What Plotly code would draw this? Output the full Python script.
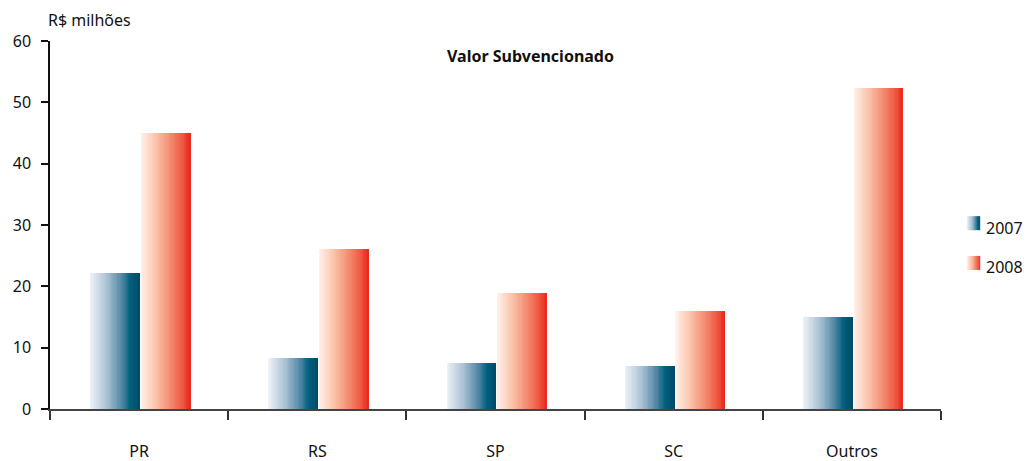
import plotly.graph_objects as go

categories = ["PR", "RS", "SP", "SC", "Outros"]
values_2007 = [22.2, 8.3, 7.5, 7.0, 15.0]
values_2008 = [45.0, 26.1, 18.9, 16.0, 52.3]
years = ["2007", "2008"]
y_ticks = [0, 10, 20, 30, 40, 50, 60]

FONT = "Noto Sans"

stops_2007 = [(0.0, (238, 243, 248)), (0.35, (168, 192, 211)), (0.65, (79, 134, 163)),
              (0.82, (0, 96, 127)), (1.0, (0, 74, 102))]
stops_2008 = [(0.0, (255, 242, 236)), (0.3, (251, 195, 171)), (0.6, (244, 140, 114)),
              (0.85, (238, 88, 64)), (1.0, (232, 38, 30))]


def interp(stops, t):
    for (t0, c0), (t1, c1) in zip(stops[:-1], stops[1:]):
        if t <= t1:
            f = (t - t0) / (t1 - t0) if t1 > t0 else 0
            c = [round(a + (b - a) * f) for a, b in zip(c0, c1)]
            return "rgb(%d,%d,%d)" % tuple(c)
    return "rgb(%d,%d,%d)" % stops[-1][1]


N = 40
bar_w = 0.276
series = [(values_2007, stops_2007, -0.272), (values_2008, stops_2008, 0.012)]

fig = go.Figure()
for vals, stops, start in series:
    sw = bar_w / N
    for i in range(N):
        fig.add_trace(go.Bar(
            x=categories, y=vals,
            offset=start + i * sw, width=sw * 1.35 if i < N - 1 else sw,
            marker=dict(color=interp(stops, (i + 0.5) / N), line=dict(width=0)),
            showlegend=False, hoverinfo="skip",
        ))

# legend (manual, gradient swatches)
legend_pos = [(0.486, 0.524), (0.378, 0.416)]
x0, x1 = 1.029, 1.044
M = 12
for (y0, y1), stops, yr in zip(legend_pos, [stops_2007, stops_2008], years):
    for i in range(M):
        fig.add_shape(type="rect", xref="paper", yref="paper",
                      x0=x0 + (x1 - x0) * i / M, x1=x0 + (x1 - x0) * (i + 1.3) / M if i < M - 1 else x1,
                      y0=y0, y1=y1, line=dict(width=0),
                      fillcolor=interp(stops, (i + 0.5) / M), layer="above")
    fig.add_annotation(x=1.048, y=(y0 + y1) / 2 - 0.012, xref="paper", yref="paper",
                       text=yr, showarrow=False, xanchor="left", yanchor="middle",
                       font=dict(family=FONT, size=16, color="#111"))

fig.add_annotation(x=0.539, y=0.959, xref="paper", yref="paper",
                   text="<b>Valor Subvencionado</b>", showarrow=False,
                   xanchor="center", yanchor="middle",
                   font=dict(family=FONT, size=16, color="#111"))
fig.add_annotation(x=-0.004, y=1.057, xref="paper", yref="paper",
                   text="R$ milhões", showarrow=False, xanchor="left", yanchor="middle",
                   font=dict(family=FONT, size=16, color="#111"))

fig.update_layout(
    width=1026, height=461,
    margin=dict(l=50, r=85, t=41, b=52),
    paper_bgcolor="white", plot_bgcolor="white",
    barmode="overlay", bargap=0,
    font=dict(family=FONT, size=16, color="#111"),
    xaxis=dict(type="category", tickson="boundaries", ticks="outside", ticklen=9,
               tickwidth=1.5, tickcolor="#333", showline=True, linecolor="#444",
               linewidth=2, showgrid=False, ticklabelstandoff=27, range=[-0.5, 4.5],
               automargin=False, tickfont=dict(family=FONT, size=16)),
    yaxis=dict(range=[0, 60], tickvals=y_ticks, ticks="outside", ticklen=7,
               tickwidth=1.5, tickcolor="#111", showline=True, linecolor="#111",
               linewidth=1.5, showgrid=False, zeroline=False, ticklabelstandoff=7,
               automargin=False, tickfont=dict(family=FONT, size=16)),
)

fig.write_html("out.html", config={"displayModeBar": False},
               post_script="document.body.style.margin='0';")
